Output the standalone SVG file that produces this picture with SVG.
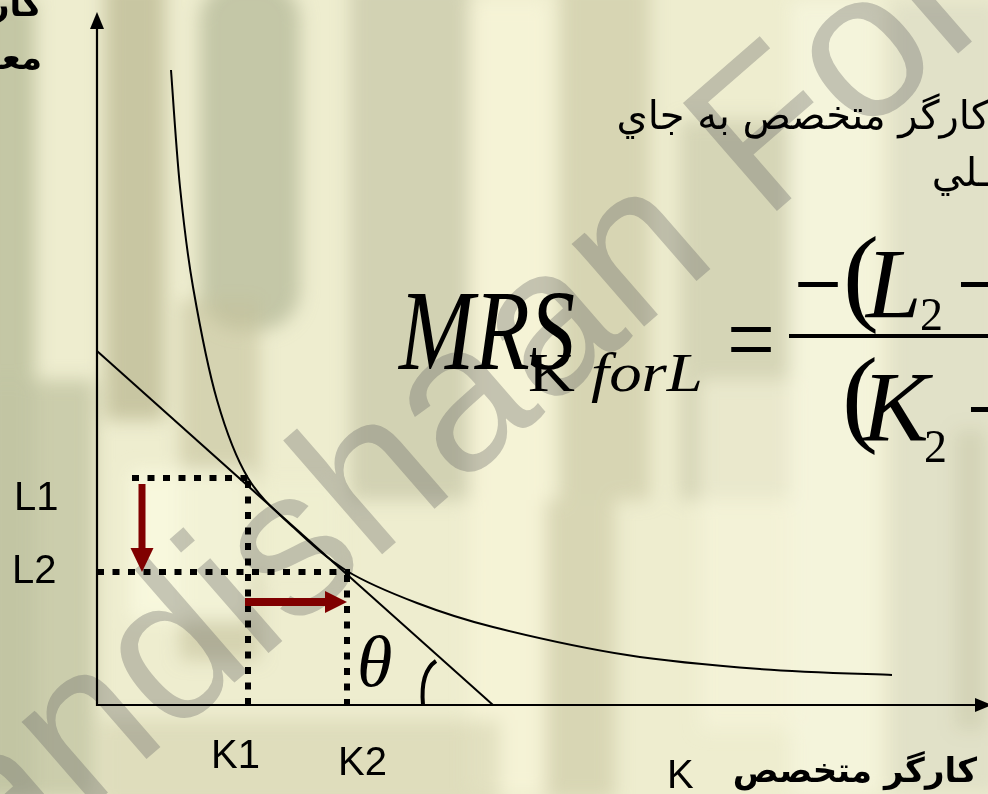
<svg xmlns="http://www.w3.org/2000/svg" width="988" height="794" viewBox="0 0 988 794">
<defs>
<style>
.lbl{font-family:"Liberation Sans",Arial,sans-serif;font-size:40px;fill:#000}
.fa{font-family:"DejaVu Sans","Noto Sans",sans-serif;fill:#000}
.math{font-family:"Liberation Serif","Times New Roman",serif;fill:#000}
.dot{stroke:#000;stroke-width:6;stroke-dasharray:7 8.5;fill:none}
.ax{stroke:#000;stroke-width:2.2;fill:none}
.thin{stroke:#000;stroke-width:2;fill:none}
.red{fill:#800000}
</style>
<filter id="blur" x="-10%" y="-10%" width="120%" height="120%"><feGaussianBlur stdDeviation="9"/></filter>
</defs>
<g id="background">
<rect x="0" y="0" width="988" height="794" fill="#eeedcf"/>
<g filter="url(#blur)">
<rect x="-20" y="0" width="55" height="800" fill="#bfc2a0" opacity="0.9"/>
<rect x="-20" y="380" width="115" height="420" fill="#c2c4a2" opacity="0.8"/>
<rect x="105" y="-20" width="60" height="440" fill="#b8b58e" opacity="0.7"/>
<rect x="200" y="-20" width="100" height="350" rx="40" fill="#bfc2a2" opacity="0.9"/>
<rect x="180" y="300" width="80" height="360" fill="#c4c29c" opacity="0.6"/>
<rect x="350" y="-20" width="120" height="520" fill="#c0c0a0" opacity="0.6"/>
<rect x="470" y="0" width="80" height="794" fill="#f5f3d6"/>
<rect x="560" y="-20" width="90" height="520" fill="#c8c5a0" opacity="0.6"/>
<rect x="680" y="120" width="110" height="380" fill="#c5c5a5" opacity="0.6"/>
<rect x="790" y="0" width="90" height="794" fill="#f7f6e0" opacity="0.7"/>
<rect x="890" y="0" width="110" height="794" fill="#dcdcc4" opacity="0.7"/>
<rect x="100" y="720" width="400" height="90" fill="#d0ceaa" opacity="0.5"/>
<rect x="545" y="500" width="70" height="300" fill="#c9c6a2" opacity="0.6"/>
<rect x="955" y="430" width="30" height="300" fill="#c6c6a6" opacity="0.5"/>
<rect x="700" y="380" width="100" height="350" fill="#f6f5dc" opacity="0.6"/>
<rect x="130" y="470" width="120" height="150" fill="#fafae0" opacity="0.8"/>
<rect x="250" y="480" width="90" height="90" fill="#f0f0d0" opacity="0.7"/>
</g>
</g>
<g id="watermark">
<text transform="translate(-4,890) rotate(-41)" font-family="Liberation Sans,Arial,sans-serif" font-size="208" fill="#666" opacity="0.34">andishaan Forum</text>
</g>
<g id="connectors">
<path id="y-axis" class="ax" d="M97 706 V26"/>
<path d="M97 12 L104 29 L90 29 Z" fill="#000"/>
<path id="x-axis" class="ax" d="M96 705 H978"/>
<path d="M992 705 L975 698 L975 712 Z" fill="#000"/>
<path id="budget-line" class="thin" d="M97 351 L493 705"/>
<path id="isoquant" class="thin" d="M171 70 C172.5 89.5 176.3 150.8 180 187 C183.7 223.2 186.8 251.5 193 287 C199.2 322.5 207.8 368.2 217 400 C226.2 431.8 235.3 456.8 248 478 C260.7 499.2 276.5 511.5 293 527 C309.5 542.5 326.3 558.3 347 571 C367.7 583.7 392.7 593.7 417 603 C441.3 612.3 458 618.3 493 627 C528 635.7 582.5 648 627 655 C671.5 662 715.8 665.7 760 669 C804.2 672.3 870 674 892 675"/>
<path class="dot" d="M132 478 H250"/>
<path class="dot" d="M97 572 H350"/>
<path class="dot" d="M248 481 V705"/>
<path class="dot" d="M347 575 V705"/>
<path d="M436 661 Q420 672 423 705" fill="none" stroke="#000" stroke-width="4"/>
<g id="arrow-down"><rect x="138.5" y="484" width="7" height="66" class="red"/><path class="red" d="M130.5 548 H153.5 L142 572 Z"/></g>
<g id="arrow-right"><rect x="245" y="598" width="82" height="8" class="red"/><path class="red" d="M325 591 V613 L347 602 Z"/></g>
</g>
<g id="labels">
<text class="lbl" x="14" y="510">L1</text>
<text class="lbl" x="12" y="583">L2</text>
<text class="lbl" x="211" y="768">K1</text>
<text class="lbl" x="338" y="775">K2</text>
<text class="lbl" x="667" y="788">K</text>
<text class="math" x="357" y="686" font-size="72" font-style="italic">θ</text>
<text class="fa" x="977" y="782" font-size="34" font-weight="bold" text-anchor="end">کارگر متخصص</text>
<text class="fa" x="42" y="16" font-size="34" font-weight="bold" text-anchor="end">کارگر</text>
<text class="fa" x="42" y="69" font-size="34" font-weight="bold" text-anchor="end">معمولي</text>
<text class="fa" x="990" y="129" font-size="40" text-anchor="end">کارگر متخصص به جاي</text>
<text class="fa" x="990" y="186" font-size="40" text-anchor="end">ـلي</text>
</g>
<g id="formula">
<text class="math" x="399" y="369" font-size="115" font-style="italic" textLength="176" lengthAdjust="spacingAndGlyphs">MRS</text>
<text class="math" x="528" y="391" font-size="54" textLength="175" lengthAdjust="spacingAndGlyphs">K<tspan font-style="italic"> forL</tspan></text>
<text class="math" x="727" y="373" font-size="100" textLength="48" lengthAdjust="spacingAndGlyphs">=</text>
<path d="M789 336 H990" stroke="#000" stroke-width="4"/>
<text class="math" x="794" y="318" font-size="100" textLength="48" lengthAdjust="spacingAndGlyphs">−</text>
<text class="math" x="843" y="311" font-size="108">(</text>
<text class="math" x="866" y="317" font-size="100" font-style="italic">L</text>
<text class="math" x="920" y="330" font-size="46">2</text>
<text class="math" x="956" y="318" font-size="100">−</text>
<text class="math" x="842" y="432" font-size="108">(</text>
<text class="math" x="862" y="440" font-size="100" font-style="italic">K</text>
<text class="math" x="924" y="462" font-size="46">2</text>
<text class="math" x="966" y="443" font-size="100">−</text>
</g>
</svg>
